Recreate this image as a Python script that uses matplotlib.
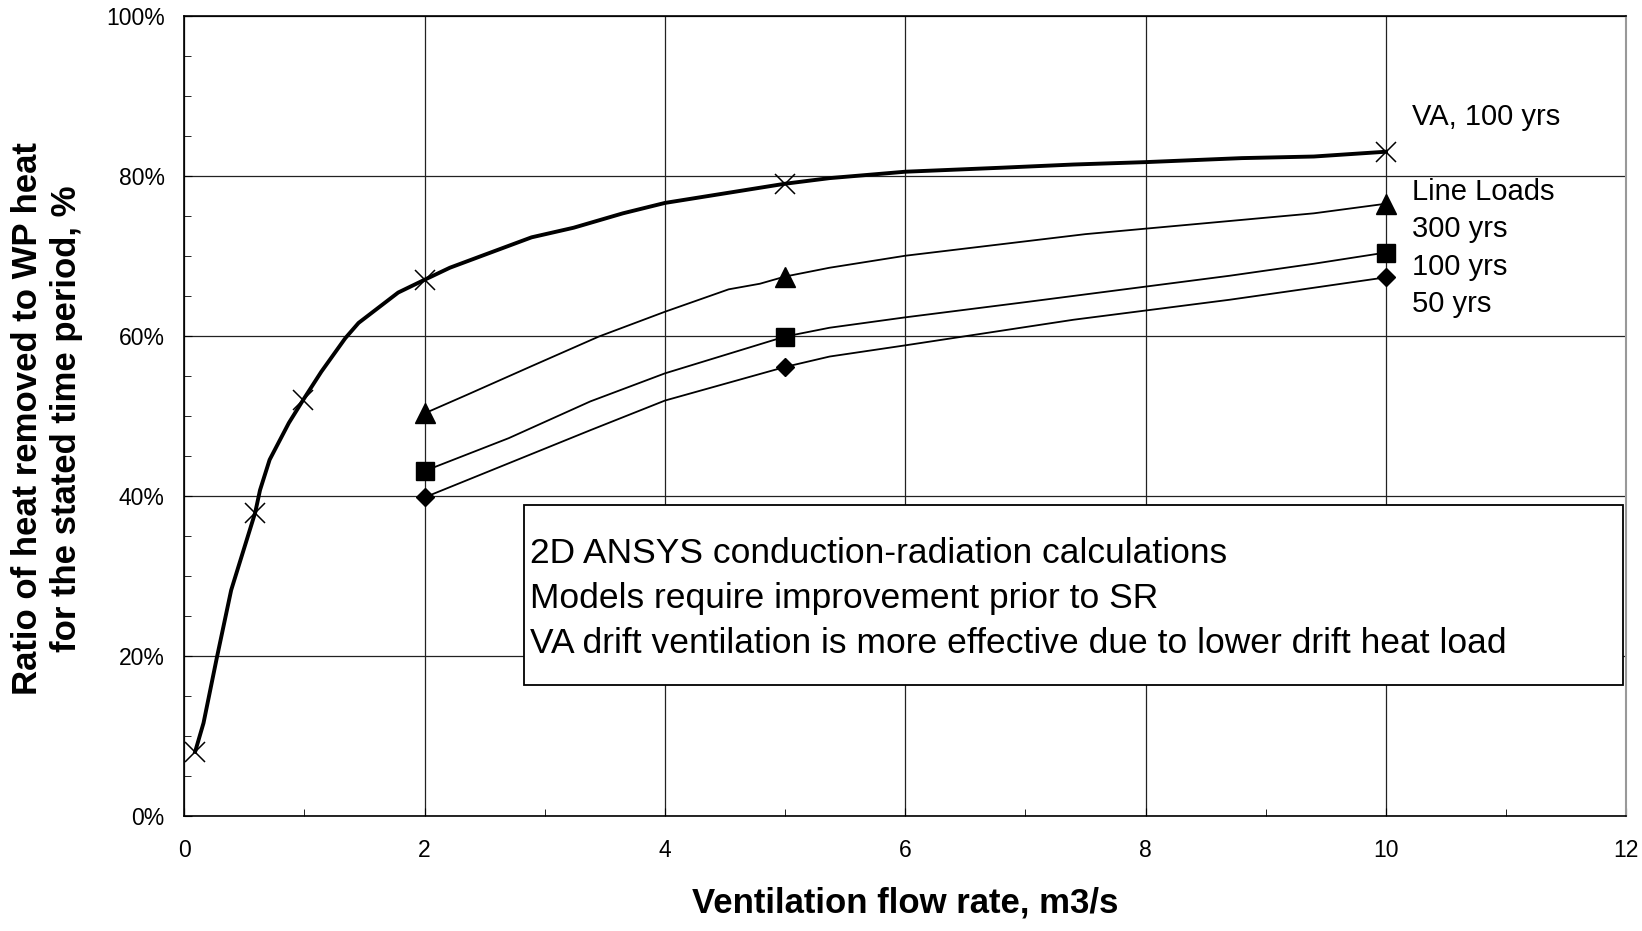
import matplotlib
matplotlib.use("Agg")
import matplotlib.pyplot as plt
from matplotlib.ticker import MultipleLocator, FuncFormatter
from matplotlib.patches import Rectangle

plt.rcParams['font.family'] = ['Liberation Sans', 'DejaVu Sans']
plt.rcParams['xtick.direction'] = 'in'
plt.rcParams['ytick.direction'] = 'in'
plt.rcParams['xtick.major.pad'] = 17
plt.rcParams['ytick.major.pad'] = 14
plt.rcParams['xtick.labelsize'] = 16.5
plt.rcParams['ytick.labelsize'] = 16.5

# VA, 100 yrs (thick curve) - full polyline and marker points
va_x = [0.09, 0.16, 0.27, 0.39, 0.46, 0.59, 0.63, 0.71, 0.87, 0.99, 1.14, 1.34, 1.45,
        1.78, 2.0, 2.21, 2.46, 2.89, 3.24, 3.65, 4.0, 5.0, 5.37, 6.0, 6.8, 7.4, 8.0,
        8.8, 9.4, 10.0]
va_y = [8.0, 11.6, 19.7, 28.2, 31.6, 37.9, 40.7, 44.5, 49.1, 52.0, 55.5, 59.7, 61.6,
        65.4, 67.0, 68.5, 69.9, 72.3, 73.5, 75.3, 76.6, 79.0, 79.7, 80.5, 81.0, 81.4,
        81.7, 82.2, 82.4, 83.0]
va_mx = [0.09, 0.59, 0.99, 2.0, 5.0, 10.0]
va_my = [8.0, 37.9, 52.0, 67.0, 79.0, 83.0]

# Line loads, 300 yrs
ll300_x = [2.0, 2.35, 2.89, 3.45, 4.0, 4.53, 4.79, 5.0, 5.37, 6.0, 7.5, 9.4, 10.0]
ll300_y = [50.3, 52.6, 56.2, 59.9, 63.0, 65.8, 66.5, 67.4, 68.5, 70.0, 72.7, 75.3, 76.5]
# Line loads, 100 yrs
ll100_x = [2.0, 2.7, 3.38, 4.0, 5.0, 5.37, 6.0, 7.0, 8.7, 9.4, 10.0]
ll100_y = [43.1, 47.2, 51.8, 55.3, 59.9, 61.0, 62.3, 64.2, 67.5, 69.0, 70.4]
# Line loads, 50 yrs
ll50_x = [2.0, 3.38, 4.0, 5.0, 5.37, 6.0, 7.4, 8.7, 9.4, 10.0]
ll50_y = [39.8, 48.2, 51.9, 56.1, 57.4, 58.8, 62.0, 64.5, 66.0, 67.3]
ll_mx = [2.0, 5.0, 10.0]
ll300_my = [50.3, 67.4, 76.5]
ll100_my = [43.1, 59.9, 70.4]
ll50_my = [39.8, 56.1, 67.3]

series_labels = ["VA, 100 yrs", "Line Loads", "300 yrs", "100 yrs", "50 yrs"]
label_y = [86.4, 77.0, 72.3, 67.6, 63.0]
note_lines = ["2D ANSYS conduction-radiation calculations",
              "Models require improvement prior to SR",
              "VA drift ventilation is more effective due to lower drift heat load"]

W, H = 1642, 931
L, R, T, B = 184.3, 1626.3, 15.7, 815.8

fig = plt.figure(figsize=(W / 100, H / 100), dpi=100)
ax = fig.add_axes([L / W, 1 - B / H, (R - L) / W, (B - T) / H])

ax.set_xlim(0, 12)
ax.set_ylim(0, 100)
ax.xaxis.set_major_locator(MultipleLocator(2))
ax.xaxis.set_minor_locator(MultipleLocator(1))
ax.yaxis.set_major_locator(MultipleLocator(20))
ax.yaxis.set_minor_locator(MultipleLocator(5))
ax.yaxis.set_major_formatter(FuncFormatter(lambda v, p: f"{int(round(v))}%"))
ax.grid(True, which='major', color='#222222', linewidth=0.9)
ax.tick_params(which='major', length=6)
ax.tick_params(which='minor', length=5)
for s in ['left', 'bottom', 'top']:
    ax.spines[s].set_linewidth(1.2)
ax.spines['right'].set_color('#999999')
ax.spines['right'].set_linewidth(1.5)

ax.plot(va_x, va_y, color='black', linewidth=2.8, zorder=3)
ax.plot(va_mx, va_my, linestyle='none', marker='x', markersize=14, markeredgewidth=1.1,
        color='black', zorder=4)
ax.plot(ll300_x, ll300_y, color='black', linewidth=1.3, zorder=3)
ax.plot(ll_mx, ll300_my, linestyle='none', marker='^', markersize=14, color='black', zorder=4)
ax.plot(ll100_x, ll100_y, color='black', linewidth=1.3, zorder=3)
ax.plot(ll_mx, ll100_my, linestyle='none', marker='s', markersize=12.5, color='black', zorder=4)
ax.plot(ll50_x, ll50_y, color='black', linewidth=1.3, zorder=3)
ax.plot(ll_mx, ll50_my, linestyle='none', marker='D', markersize=9.5, color='black', zorder=4)

for lab, yv in zip(series_labels, label_y):
    ax.text(10.22, yv, lab, fontsize=21, ha='left', va='baseline', color='black')

# note box
x0 = (524 - L) / (R - L)
x1 = (1623 - L) / (R - L)
y0 = (B - 685) / (B - T)
y1 = (B - 505) / (B - T)
ax.add_patch(Rectangle((x0, y0), x1 - x0, y1 - y0, transform=ax.transAxes,
                       facecolor='white', edgecolor='black', linewidth=1.3, zorder=5))
base_px = [563, 608, 653]
for line, bp in zip(note_lines, base_px):
    ax.text((530 - L) / (R - L), (B - bp) / (B - T), line,
            transform=ax.transAxes, fontsize=25.5, ha='left', va='baseline',
            color='black', zorder=6)

fig.text((L + R) / 2 / W, 1 - 913 / H, "Ventilation flow rate, m3/s",
         ha='center', va='baseline', fontsize=25, fontweight='bold')
fig.text(47 / W, 1 - 419 / H, "Ratio of heat removed to WP heat\nfor the stated time period, %",
         rotation=90, ha='center', va='center', fontsize=25, fontweight='bold',
         linespacing=1.2, multialignment='center')

fig.savefig("out.png", dpi=100)
